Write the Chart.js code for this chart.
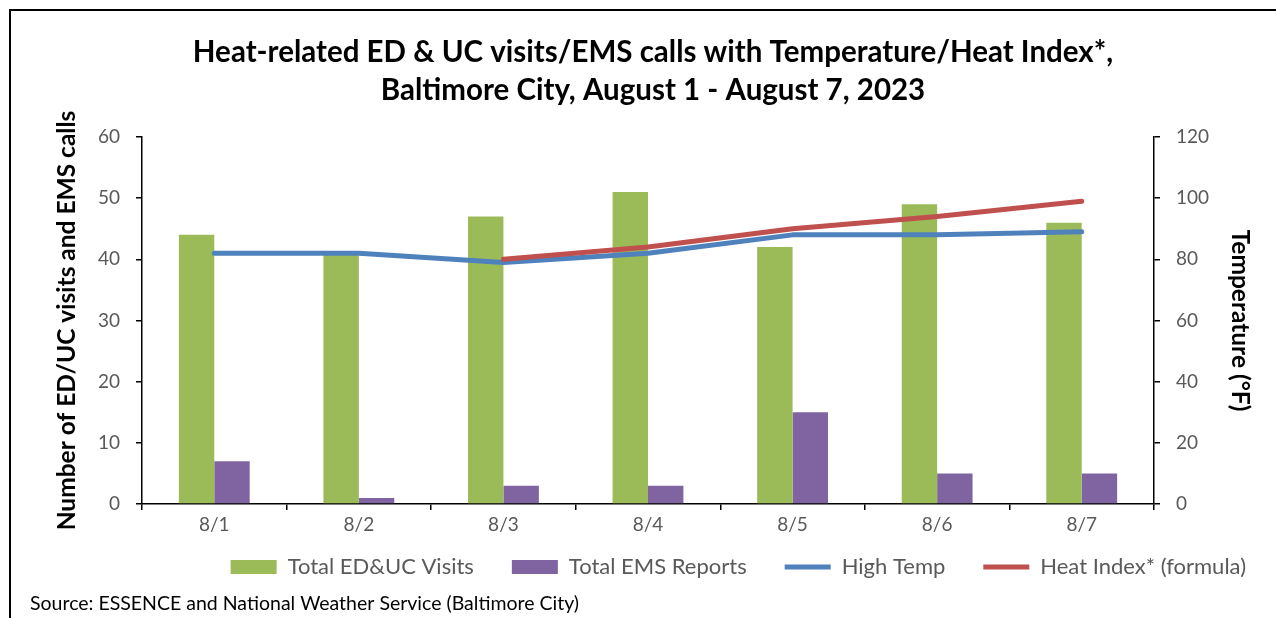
<!DOCTYPE html>
<html>
<head>
<meta charset="utf-8">
<script src="https://cdn.jsdelivr.net/npm/chart.js@4.4.1/dist/chart.umd.min.js"></script>
<style>
  html, body { margin: 0; padding: 0; background: #fff; overflow: hidden; }
  #wrap { position: relative; width: 1276px; height: 618px; }
  #frame { position: absolute; left: 9px; top: 9px; width: 1400px; height: 800px;
           border-left: 2px solid #000; border-top: 2px solid #000; pointer-events: none; }
  canvas { position: absolute; left: 0; top: 0; }
</style>
</head>
<body>
<div id="wrap">
  <canvas id="c" width="1276" height="618"></canvas>
  <div id="frame"></div>
</div>
<script>
const categories = ['8/1', '8/2', '8/3', '8/4', '8/5', '8/6', '8/7'];
const edUcVisits = [44, 41, 47, 51, 42, 49, 46];
const emsReports = [7, 1, 3, 3, 15, 5, 5];
const highTemp = [82, 82, 79, 82, 88, 88, 89];
const heatIndex = [null, null, 80, 84, 90, 94, 99];
const leftTicksMax = 60, leftStep = 10;
const rightTicksMax = 120, rightStep = 20;
const titleLines = ['Heat-related ED & UC visits/EMS calls with Temperature/Heat Index*,', 'Baltimore City, August 1 - August 7, 2023'];
const leftAxisTitle = 'Number of ED/UC visits and EMS calls';
const rightAxisTitle = 'Temperature (°F)';
const sourceText = 'Source: ESSENCE and National Weather Service (Baltimore City)';

const FONT = 'Lato';
const tickGray = '#595959';

// Move the legend row so it sits closer to the axis labels, like the original.
const legendShift = {
  id: 'legendShift',
  afterLayout(chart) {
    const l = chart.legend;
    if (!l) return;
    l.top -= 19;
    l.bottom += 6;
    l.height = l.bottom - l.top;
    l.left += 8; l.right += 8;
  }
};

new Chart(document.getElementById('c'), {
  data: {
    labels: categories,
    datasets: [
      { type: 'bar', label: 'Total ED&UC Visits', data: edUcVisits, backgroundColor: '#9BBB59',
        yAxisID: 'y', order: 2, categoryPercentage: 0.49, barPercentage: 1.0 },
      { type: 'bar', label: 'Total EMS Reports', data: emsReports, backgroundColor: '#8064A2',
        yAxisID: 'y', order: 2, categoryPercentage: 0.49, barPercentage: 1.0 },
      { type: 'line', label: 'High Temp', data: highTemp, borderColor: '#4F81BD', backgroundColor: '#4F81BD',
        borderWidth: 5, borderCapStyle: 'round', borderJoinStyle: 'round', pointRadius: 0, tension: 0,
        yAxisID: 'y2', order: 1 },
      { type: 'line', label: 'Heat Index* (formula)', data: heatIndex, borderColor: '#C0504D', backgroundColor: '#C0504D',
        borderWidth: 5, borderCapStyle: 'round', borderJoinStyle: 'round', pointRadius: 0, tension: 0,
        yAxisID: 'y2', order: 0 }
    ]
  },
  plugins: [legendShift],
  options: {
    responsive: false,
    animation: false,
    devicePixelRatio: 1,
    layout: { padding: { left: 30, right: 0, top: 0, bottom: 0 } },
    plugins: {
      tooltip: { enabled: false },
      title: {
        display: true, text: titleLines, color: '#000',
        font: { family: FONT, size: 29.5, weight: 'bold', lineHeight: '38px' },
        padding: { top: 33, bottom: 28 }
      },
      subtitle: {
        display: true, text: sourceText, position: 'bottom', align: 'start', color: '#000',
        font: { family: FONT, size: 19.5, weight: 'normal', lineHeight: 1.2 },
        padding: { top: 9.3, bottom: 2.3 }
      },
      legend: {
        display: true, position: 'bottom', align: 'end', maxHeight: 46,
        labels: {
          color: tickGray, font: { family: FONT, size: 22 },
          padding: 38, usePointStyle: true, pointStyleWidth: 46, boxHeight: 14,
          sort: (a, b) => a.datasetIndex - b.datasetIndex,
          generateLabels: (chart) => chart.data.datasets.map((ds, i) => ({
            text: ds.label,
            datasetIndex: i,
            fillStyle: ds.type === 'bar' ? ds.backgroundColor : 'rgba(0,0,0,0)',
            strokeStyle: ds.type === 'bar' ? ds.backgroundColor : ds.borderColor,
            lineWidth: ds.type === 'bar' ? 0 : 5,
            lineCap: 'butt',
            pointStyle: ds.type === 'bar' ? 'rect' : 'line',
            fontColor: tickGray,
            hidden: false
          }))
        }
      }
    },
    scales: {
      x: {
        type: 'category',
        offset: true,
        grid: { display: true, offset: true, drawOnChartArea: false, drawTicks: true, tickLength: 6, color: '#000', lineWidth: 1.5 },
        border: { display: true, color: '#000', width: 1.5 },
        ticks: { color: tickGray, font: { family: FONT, size: 19 }, padding: 3, maxRotation: 0 },
        afterFit: (s) => { s.height = 33; }
      },
      y: {
        position: 'left', min: 0, max: leftTicksMax,
        ticks: { stepSize: leftStep, color: tickGray, font: { family: FONT, size: 19 }, padding: 16 },
        grid: { display: true, drawOnChartArea: false, drawTicks: true, tickLength: 6, color: '#000', lineWidth: 1.5 },
        border: { display: true, color: '#000', width: 1.5 },
        title: { display: true, text: leftAxisTitle, color: '#000', font: { family: FONT, size: 24.5, weight: 'bold' }, padding: { top: 22, bottom: 0 } },
        afterFit: (s) => { s.width = 112; }
      },
      y2: {
        position: 'right', min: 0, max: rightTicksMax,
        ticks: { stepSize: rightStep, color: tickGray, font: { family: FONT, size: 19 }, padding: 16 },
        grid: { display: true, drawOnChartArea: false, drawTicks: true, tickLength: 6, color: '#000', lineWidth: 1.5 },
        border: { display: true, color: '#000', width: 1.5 },
        title: { display: true, text: rightAxisTitle, color: '#000', font: { family: FONT, size: 24.5, weight: 'bold' }, padding: { top: 21, bottom: 0 } },
        afterFit: (s) => { s.width = 122; }
      }
    }
  }
});
</script>
</body>
</html>
